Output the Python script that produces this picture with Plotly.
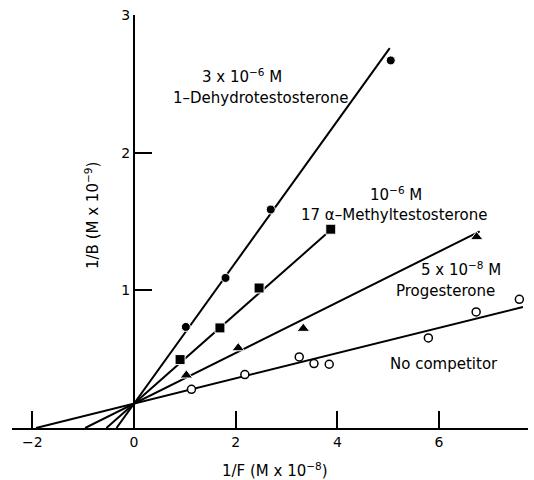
import plotly.graph_objects as go

# Data (1/F in M x 1e-8, 1/B in M x 1e-9)
dehydro_x = [1.02, 1.80, 2.69, 5.05]
dehydro_y = [0.734, 1.09, 1.587, 2.67]
methyl_x = [0.906, 1.69, 2.46, 3.87]
methyl_y = [0.497, 0.727, 1.017, 1.444]
proges_x = [1.03, 2.05, 3.33, 6.74]
proges_y = [0.383, 0.581, 0.722, 1.388]
nocomp_x = [1.13, 2.18, 3.25, 3.54, 3.84, 5.79, 6.73, 7.58]
nocomp_y = [0.281, 0.388, 0.516, 0.468, 0.463, 0.654, 0.843, 0.935]

# Fitted lines: common y-intercept, slopes, and x end of each drawn line
fit_intercept = 0.177
fit_slopes = {"dehydro": 0.5135, "methyl": 0.326, "proges": 0.184, "nocomp": 0.0918}
fit_xend = {"dehydro": 5.03, "methyl": 3.9, "proges": 6.8, "nocomp": 7.65}

x_ticks = [-2, 0, 2, 4, 6]
y_ticks = [1, 2, 3]

FONT = "DejaVu Sans"
fig = go.Figure()

for key in ["nocomp", "proges", "methyl", "dehydro"]:
    m = fit_slopes[key]
    x0 = -fit_intercept / m
    x1 = fit_xend[key]
    fig.add_trace(go.Scatter(x=[x0, x1], y=[0, m * x1 + fit_intercept], mode="lines",
                             line=dict(color="black", width=2), showlegend=False,
                             hoverinfo="skip"))

fig.add_trace(go.Scatter(x=dehydro_x, y=dehydro_y, mode="markers", showlegend=False,
                         marker=dict(symbol="circle", size=9, color="black",
                                     line=dict(color="white", width=1))))
fig.add_trace(go.Scatter(x=methyl_x, y=methyl_y, mode="markers", showlegend=False,
                         marker=dict(symbol="square", size=10, color="black",
                                     line=dict(color="white", width=1))))
fig.add_trace(go.Scatter(x=proges_x, y=proges_y, mode="markers", showlegend=False,
                         marker=dict(symbol="triangle-up", size=11, color="black",
                                     line=dict(color="white", width=1))))
fig.add_trace(go.Scatter(x=nocomp_x, y=nocomp_y, mode="markers", showlegend=False,
                         marker=dict(symbol="circle", size=8, color="white",
                                     line=dict(color="black", width=1.5))))

L, R, T, B = 12, 6, 15, 52
W, H = 534, 480
xr = [-2.4, 7.75]
dom_w = W - L - R
dom_h = H - T - B
ypos = (0 - xr[0]) / (xr[1] - xr[0])

fig.update_layout(
    width=W, height=H,
    margin=dict(l=L, r=R, t=T, b=B),
    paper_bgcolor="white", plot_bgcolor="white",
    font=dict(family=FONT, color="black", size=14),
    xaxis=dict(range=xr, showgrid=False, zeroline=False, showline=True,
               linecolor="black", linewidth=2, ticks="inside", ticklen=17,
               tickwidth=2, tickcolor="black", tickvals=x_ticks,
               ticktext=[str(v).replace("-", "\u2212") for v in x_ticks],
               tickfont=dict(size=14, family=FONT)),
    yaxis=dict(range=[0, 3], showgrid=False, zeroline=False, showline=True,
               linecolor="black", linewidth=2, ticks="inside", ticklen=17,
               tickwidth=2, tickcolor="black", tickvals=y_ticks,
               ticktext=[str(v) for v in y_ticks],
               anchor="free", position=ypos, side="left",
               tickfont=dict(size=14, family=FONT)),
)


def to_paper(xp, yp):
    return (xp - L) / dom_w, 1 - (yp - T) / dom_h


ann = [
    ("3 x 10<sup>\u22126</sup> M", 242, 76),
    ("1\u2013Dehydrotestosterone", 260, 98),
    ("10<sup>\u22126</sup> M", 396, 194),
    ("17 \u03b1\u2013Methyltestosterone", 394, 215),
    ("5 x 10<sup>\u22128</sup> M", 461, 269),
    ("Progesterone", 445, 291),
    ("No competitor", 444, 364),
    ("1/F (M x 10<sup>\u22128</sup>)", 275, 470),
]
for text, x, y in ann:
    ax, ay = to_paper(x, y)
    fig.add_annotation(text=text, x=ax, y=ay, xref="paper", yref="paper",
                       showarrow=False, xanchor="center", yanchor="middle",
                       font=dict(size=15, family=FONT, color="black"))

ax, ay = to_paper(92, 216)
fig.add_annotation(text="1/B (M x 10<sup>\u22129</sup>)", x=ax, y=ay,
                   xref="paper", yref="paper", showarrow=False, textangle=-90,
                   xanchor="center", yanchor="middle",
                   font=dict(size=15, family=FONT, color="black"))

fig.write_html("out.html")
